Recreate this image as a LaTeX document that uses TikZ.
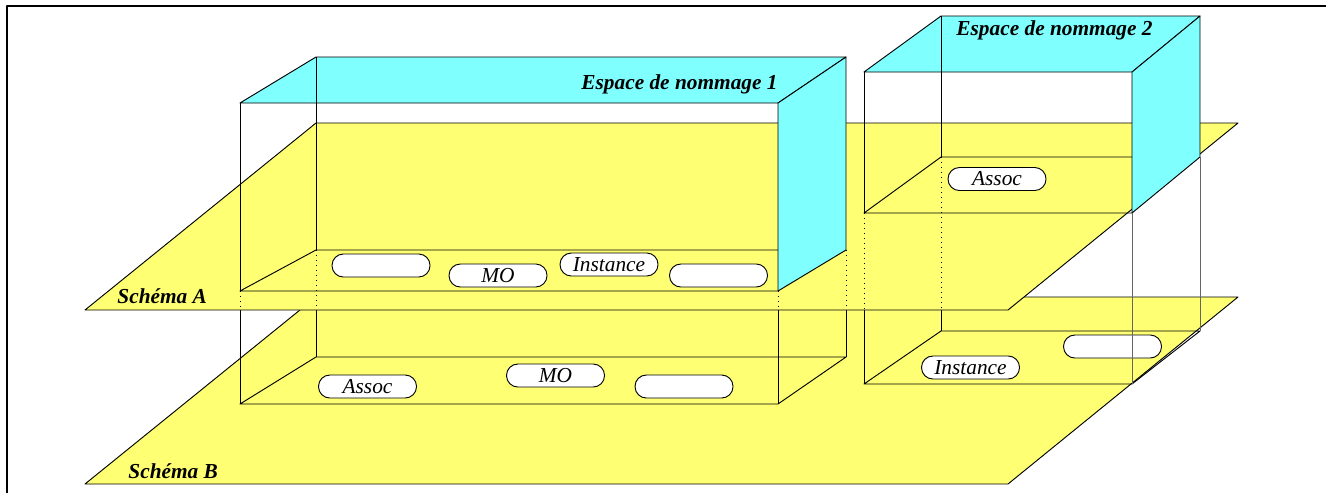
\documentclass[tikz,border=0pt]{standalone}
\usepackage{fontspec}
\setmainfont{Liberation Serif}

\definecolor{schemayellow}{RGB}{255,255,115}
\definecolor{espacecyan}{RGB}{128,255,255}

\begin{document}
\begin{tikzpicture}[x=0.75pt, y=-0.75pt, line width=0.7pt, line join=round,
	plane/.style={draw=black, fill=schemayellow},
	face/.style={draw=black, fill=espacecyan},
	hidden/.style={draw=black, dash pattern=on 0.75pt off 3pt},
	thin edge/.style={draw=black!60},
	pill/.style={draw=black, fill=white, rounded corners=8.5pt, minimum width=73.5pt,
		minimum height=17.25pt, inner sep=0pt, font=\fontsize{16}{19}\selectfont\itshape},
	title/.style={inner sep=0pt, font=\fontsize{16}{19}\selectfont\bfseries\itshape}]
	\useasboundingbox (0,0) rectangle (1326,493);
	\draw[line width=1.5pt] (7,493) -- (7,6) -- (1326,6);

	% schema B and what lies on it
	\draw[plane] (85,484) -- (1008,484) -- (1238,297) -- (316,297) -- cycle;
	\node[title, anchor=base west] (schemaB) at (128,478) {Schéma B};
	\draw (240,404) -- (778,404) -- (846,357) -- (316,357) -- cycle;
	\draw (864,384) -- (1132,384) -- (1200,331) -- (941,331) -- cycle;
	\draw (240,310) -- (240,404);
	\draw (316,310) -- (316,357);
	\draw (778,310) -- (778,404);
	\draw (846,310) -- (846,357);
	\draw (864,310) -- (864,384);
	\draw (941,310) -- (941,331);
	\node[pill] (assocB)  at (367.5,386.5) {Assoc};
	\node[pill] (moB)     at (555.5,375.5) {MO};
	\node[pill] (emptyB)  at (684,386.5) {};
	\node[pill] (instB)   at (970.5,367.5) {Instance};
	\node[pill] (emptyB2) at (1112.5,346.5) {};

	% schema A
	\draw[plane] (85,310) -- (1008,310) -- (1238,123) -- (316,123) -- cycle;
	\node[title, anchor=base west] (schemaA) at (117,303) {Schéma A};
	\draw[hidden] (240,291) -- (240,310);
	\draw[hidden] (316,250) -- (316,310);
	\draw[hidden] (778,291) -- (778,310);
	\draw[hidden] (846,250) -- (846,310);
	\draw[hidden] (864,213) -- (864,310);
	\draw[hidden] (941,157) -- (941,310);
	\draw (778,291) -- (240,291) -- (316,250) -- (846,250);
	\draw (1132,213) -- (864,213) -- (941,157) -- (1200,157);
	\node[pill] (emptyA)  at (381,265.5) {};
	\node[pill] (moA)     at (498,275.5) {MO};
	\node[pill] (instA)   at (609,264.5) {Instance};
	\node[pill] (emptyA2) at (718.5,275.5) {};
	\node[pill] (assocA)  at (997,179) {Assoc};

	% espaces de nommage
	\draw[face] (240,103) -- (316,57) -- (846,57) -- (778,103) -- cycle;
	\draw[face] (778,103) -- (846,57) -- (846,250) -- (778,291) -- cycle;
	\draw[face] (864,72) -- (941,16) -- (1200,16) -- (1132,72) -- cycle;
	\draw[face] (1132,72) -- (1200,16) -- (1200,157) -- (1132,213) -- cycle;
	\draw (240,103) -- (240,291);
	\draw (316,57) -- (316,250);
	\draw (864,72) -- (864,213);
	\draw (941,16) -- (941,157);
	\draw[thin edge] (1132,213) -- (1132,384);
	\draw[thin edge] (1200,157) -- (1200,331);
	\node[title, anchor=base east] (espace1) at (778,89) {Espace de nommage 1};
	\node[title, anchor=base] (espace2) at (1054.5,35) {Espace de nommage 2};
\end{tikzpicture}
\end{document}
